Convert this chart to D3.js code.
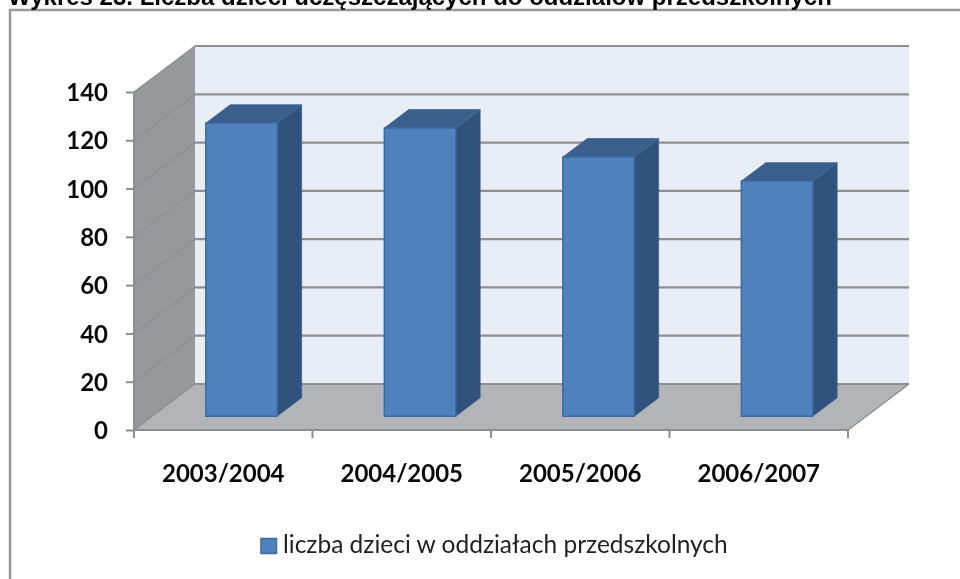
<!DOCTYPE html>
<html>
<head>
<meta charset="utf-8">
<script src="https://cdn.jsdelivr.net/npm/d3@7"></script>
<style>
html, body {margin:0; padding:0; background:#fff; overflow:hidden;}
.axis path {display:none;}
</style>
</head>
<body>
<div class="canvas"></div>
<script>
// --- Data
var categories = ['2003/2004', '2004/2005', '2005/2006', '2006/2007'];
var values = [121.4, 119.4, 107.4, 97.4];
var yTicks = [0, 20, 40, 60, 80, 100, 120, 140];
var title = 'Wykres 23. Liczba dzieci uczęszczających do oddziałów przedszkolnych';
var legendLabel = 'liczba dzieci w oddziałach przedszkolnych';

var outerWidth = 960, outerHeight = 579;
var labelFont = 'Lato, "Open Sans", sans-serif';

var svg = d3.select('.canvas')
  .append('svg')
  .attr('width', outerWidth)
  .attr('height', outerHeight)
  .style('display', 'block');

// the reference is a soft, upscaled screenshot
svg.append('defs').append('filter')
  .attr('id', 'soft')
  .attr('x', '-5%').attr('y', '-5%').attr('width', '110%').attr('height', '110%')
  .attr('color-interpolation-filters', 'sRGB')
  .append('feGaussianBlur')
  .attr('stdDeviation', 0.6);

var plot = svg.append('g').attr('filter', 'url(#soft)');

// --- Scales, front plane of the 3d box
var scaleX = d3.scaleBand()
  .domain(categories)
  .range([134, 848])
  .paddingInner(0.6)
  .paddingOuter(0.3);
var scaleY = d3.scaleLinear().domain([0, 140]).range([430, 92]);

// --- depth goes up and to the right, t=0 front, t=1 back wall
var depthX = 61, depthY = -46;
function pt(x, y, t) {
  return [x + depthX * t, y + depthY * t];
}
var poly = d3.line();

var x0 = scaleX.range()[0], x1 = scaleX.range()[1];
var y0 = scaleY(0), y140 = scaleY(140);

// --- Frame
plot.append('path')
  .attr('d', 'M10,' + (outerHeight + 5) + 'V10H' + (outerWidth + 5))
  .attr('fill', 'none')
  .attr('stroke', '#999')
  .attr('stroke-width', 2.5);

// --- Walls and floor
plot.append('path')
  .attr('d', poly([pt(x0, y140, 1), pt(x1, y140, 1), pt(x1, y0, 1), pt(x0, y0, 1)]) + 'Z')
  .attr('fill', '#e9edf6');
plot.append('path')
  .attr('d', poly([pt(x0, y140, 0), pt(x0, y140, 1), pt(x0, y0, 1), pt(x0, y0, 0)]) + 'Z')
  .attr('fill', '#96989b');
plot.append('path')
  .attr('d', poly([pt(x0, y0, 0), pt(x1, y0, 0), pt(x1, y0, 1), pt(x0, y0, 1)]) + 'Z')
  .attr('fill', '#b2b4b7');

// --- Gridlines along the side wall and the back wall
yTicks.forEach(function(v) {
  var y = scaleY(v);
  plot.append('path')
    .attr('d', poly([pt(x0, y, 0), pt(x0, y, 1)]))
    .attr('fill', 'none')
    .attr('stroke', '#8c8e91')
    .attr('stroke-width', 1.2);
  plot.append('path')
    .attr('d', poly([pt(x0, y, 1), pt(x1, y, 1)]))
    .attr('fill', 'none')
    .attr('stroke', '#8f8f8f')
    .attr('stroke-width', 2.2);
});
plot.append('path')
  .attr('d', poly([pt(x1, y0, 0), pt(x1, y0, 1)]))
  .attr('fill', 'none')
  .attr('stroke', '#8c8e91')
  .attr('stroke-width', 1.5);
plot.append('path')
  .attr('d', poly([pt(x0, y140, 0), pt(x0, y0, 0)]))
  .attr('fill', 'none')
  .attr('stroke', '#8c8e91')
  .attr('stroke-width', 2);

// --- Bars
var barFront = 0.3, barBack = 0.7;
var bars = plot.selectAll('.bar')
  .data(values)
  .enter()
  .append('g')
  .attr('class', 'bar');

bars.append('path')   // side
  .attr('d', function(d, i) {
    var r = scaleX(categories[i]) + scaleX.bandwidth();
    return poly([pt(r, scaleY(d), barFront), pt(r, scaleY(d), barBack), pt(r, y0, barBack), pt(r, y0, barFront)]) + 'Z';
  })
  .attr('fill', '#30527c')
  .attr('stroke', '#3c6494')
  .attr('stroke-width', 0.8);
bars.append('path')   // top
  .attr('d', function(d, i) {
    var l = scaleX(categories[i]), r = l + scaleX.bandwidth();
    return poly([pt(l, scaleY(d), barFront), pt(r, scaleY(d), barFront), pt(r, scaleY(d), barBack), pt(l, scaleY(d), barBack)]) + 'Z';
  })
  .attr('fill', '#3b5f8d')
  .attr('stroke', '#41699b')
  .attr('stroke-width', 0.8);
bars.append('path')   // front
  .attr('d', function(d, i) {
    var l = scaleX(categories[i]), r = l + scaleX.bandwidth();
    return poly([pt(l, scaleY(d), barFront), pt(r, scaleY(d), barFront), pt(r, y0, barFront), pt(l, y0, barFront)]) + 'Z';
  })
  .attr('fill', '#4f81bd')
  .attr('stroke', '#3d6ba3')
  .attr('stroke-width', 1.5);

// --- Axes
var yAxis = d3.axisLeft(scaleY).tickValues(yTicks).tickSize(8).tickPadding(18);
var gy = plot.append('g')
  .attr('class', 'axis')
  .attr('transform', 'translate(' + x0 + ',0)')
  .call(yAxis);
gy.selectAll('line').attr('stroke', '#8c8e91').attr('stroke-width', 2);
gy.selectAll('text')
  .attr('font-family', labelFont)
  .attr('font-size', '24px')
  .attr('font-weight', 700)
  .attr('dy', '0.36em')
  .attr('fill', '#0a0a0a');

plot.append('path')
  .attr('d', poly([[x0, y0], [x1, y0]]))
  .attr('fill', 'none')
  .attr('stroke', '#8c8e91')
  .attr('stroke-width', 2);

var xAxis = d3.axisBottom(scaleX).tickSize(0).tickPadding(35);
var gx = plot.append('g')
  .attr('class', 'axis')
  .attr('transform', 'translate(0,' + y0 + ')')
  .call(xAxis);
gx.selectAll('text')
  .attr('font-family', labelFont)
  .attr('font-size', '24px')
  .attr('font-weight', 700)
  .attr('fill', '#0a0a0a');

// tick marks sit between the categories
gx.selectAll('.edge')
  .data(d3.range(categories.length + 1))
  .enter()
  .append('line')
  .attr('class', 'edge')
  .attr('x1', function(d) { return x0 + d * scaleX.step(); })
  .attr('x2', function(d) { return x0 + d * scaleX.step(); })
  .attr('y1', 0)
  .attr('y2', 8)
  .attr('stroke', '#8c8e91')
  .attr('stroke-width', 2);

// --- Title, cut off by the top of the picture like the reference
plot.append('text')
  .attr('x', 8)
  .attr('y', 5)
  .attr('font-family', '"Liberation Sans", Arial, sans-serif')
  .attr('font-size', '24px')
  .attr('font-weight', 700)
  .attr('fill', '#000')
  .text(title);

// --- Legend
plot.append('rect')
  .attr('x', 261)
  .attr('y', 538.5)
  .attr('width', 15.5)
  .attr('height', 15)
  .attr('fill', '#4f81bd')
  .attr('stroke', '#3d6ba3')
  .attr('stroke-width', 1.5);
plot.append('text')
  .attr('x', 283)
  .attr('y', 553)
  .attr('font-family', labelFont)
  .attr('font-size', '24.5px')
  .attr('fill', '#222')
  .text(legendLabel);
</script>
</body>
</html>
